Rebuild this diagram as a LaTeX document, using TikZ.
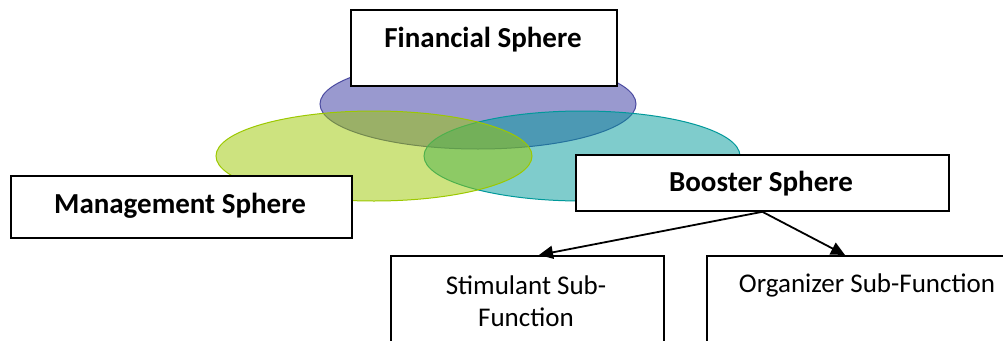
\documentclass[tikz,border=0pt]{standalone}
\usepackage{fontspec}
\setmainfont{Carlito}
\usetikzlibrary{arrows.meta}
\definecolor{finfill}{HTML}{3333A0}
\definecolor{finline}{HTML}{4B4BA0}
\definecolor{manfill}{HTML}{9CC800}
\definecolor{manline}{HTML}{9CC800}
\definecolor{boofill}{HTML}{00999A}
\definecolor{booline}{HTML}{00999A}
\tikzset{
  sphere/.style={fill opacity=0.5, line width=1pt},
  box/.style={draw=black, fill=white, line width=1.8pt, anchor=north west, inner sep=0pt},
  boldtxt/.style={font=\fontsize{29}{32}\selectfont\bfseries, inner sep=0pt},
  plaintxt/.style={font=\fontsize{27}{32}\selectfont, inner sep=0pt, align=center},
  arr/.style={line width=1.8pt, -{Triangle[length=14pt,width=13pt]}}
}
\begin{document}
\begin{tikzpicture}[x=1pt,y=-1pt]
\useasboundingbox (0,0) rectangle (1003,340);
\clip (0,0) rectangle (1003,340);
% ellipses
\draw[sphere, fill=finfill, draw=finline] (478,104) ellipse [x radius=158, y radius=45];
\draw[sphere, fill=boofill, draw=booline] (582,156) ellipse [x radius=158, y radius=45];
\draw[sphere, fill=manfill, draw=manline] (374,156) ellipse [x radius=158, y radius=45];
% boxes
\node[box, minimum width=266pt, minimum height=76pt] (fin) at (350,9) {};
\node[boldtxt] (fintxt) at (483,40) {Financial Sphere};
\node[box, minimum width=341pt, minimum height=62pt] (man) at (10,175) {};
\node[boldtxt] (mantxt) at (180,206) {Management Sphere};
\node[box, minimum width=373pt, minimum height=56pt] (boo) at (575,154) {};
\node[boldtxt] (bootxt) at (761,184) {Booster Sphere};
\node[box, minimum width=273pt, minimum height=120pt] (sti) at (390,255) {};
\node[plaintxt] (stitxt) at (526,301) {Stimulant Sub-\\Function};
\node[box, minimum width=322pt, minimum height=120pt] (org) at (706,255) {};
\node[plaintxt] (orgtxt) at (867,285) {Organizer Sub-Function};
% arrows
\coordinate (bs) at (boo.south);
\draw[arr] (bs) -- (sti.north -| 539,0) ;
\draw[arr] (bs) -- (org.north -| 845,0);
\end{tikzpicture}
\end{document}
